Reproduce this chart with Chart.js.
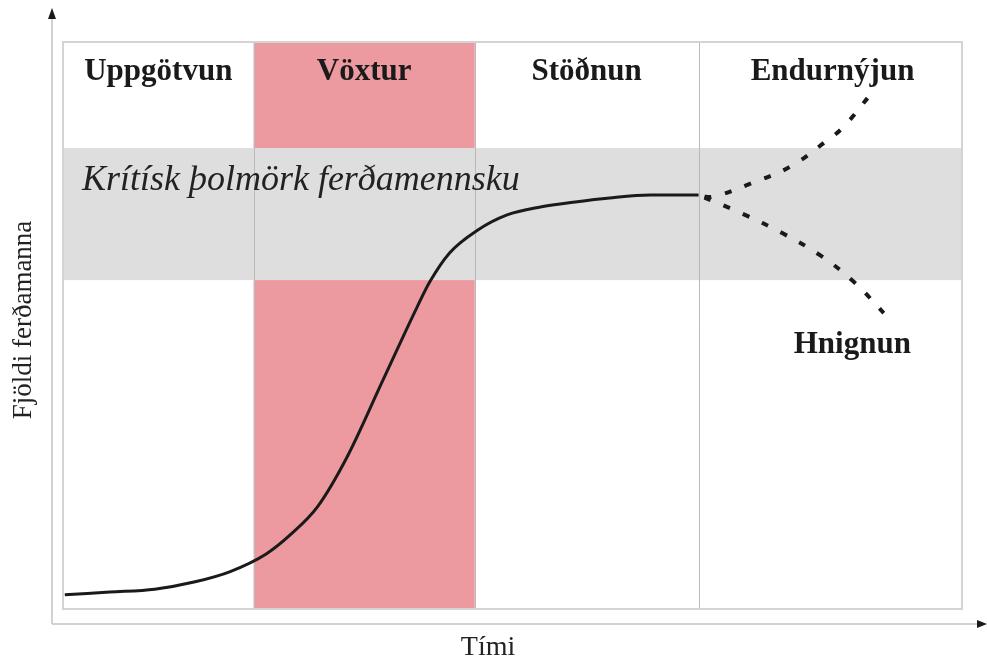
<!DOCTYPE html>
<html>
<head>
<meta charset="utf-8">
<script src="https://cdn.jsdelivr.net/npm/chart.js@4/dist/chart.umd.min.js"></script>
<style>
  html, body { margin: 0; padding: 0; background: #fff; }
  #wrap { width: 987px; height: 659px; position: relative; }
</style>
</head>
<body>
<div id="wrap"><canvas id="chart"></canvas></div>
<script>
// phases along the time axis (0..100)
const phaseNames = ['Uppgötvun', 'Vöxtur', 'Stöðnun']
const phaseEdges = [0, 21.2, 45.8, 70.7, 100]
const growthPhase = [21.2, 45.8]
// critical tourism capacity band (0..100 of visitors)
const capacityBand = [58.0, 81.3]
const capacityLabel = 'Krítísk þolmörk ferðamennsku'

// life cycle curve
const curveTime = [0.2, 5.2, 10.2, 14.7, 18.6, 22.6, 25.3, 28.3, 31.6, 35.6, 39.4, 40.8, 43.0, 46.1, 49.4, 53.1, 57.0, 60.8, 65.3, 70.7]
const curveVisitors = [2.5, 3.0, 3.5, 4.8, 6.6, 9.7, 13.1, 18.0, 26.8, 40.4, 53.3, 57.7, 62.8, 66.8, 69.5, 70.9, 71.8, 72.5, 73.0, 73.0]

// after stagnation: renewal or decline
const renewalTime = [70.7, 72.2, 76.6, 81.0, 84.8, 86.8, 89.8]
const renewalVisitors = [73.0, 72.7, 75.1, 78.1, 82.4, 85.0, 90.7]
const declineTime = [70.7, 75.6, 80.0, 84.2, 87.9, 91.3]
const declineVisitors = [73.0, 69.7, 66.3, 62.4, 57.8, 52.2]

const outcomeLabels = [
  { text: 'Endurnýjun', x: 85.6, y: 93.3 },
  { text: 'Hnignun', x: 87.8, y: 45.1 }
]

const xTitle = 'Tími'
const yTitle = 'Fjöldi ferðamanna'

const toPoints = (xs, ys) => xs.map((x, i) => ({ x: x, y: ys[i] }))

const ink = '#1a1a1a'
const serif = '"Liberation Serif", "DejaVu Serif", serif'

const backdrop = {
  id: 'backdrop',
  beforeDatasetsDraw(chart) {
    const { ctx, chartArea: a, scales: { x, y } } = chart
    ctx.save()
    ctx.fillStyle = '#ffffff'
    ctx.fillRect(a.left, a.top, a.width, a.height)

    // growth phase in red
    const gx0 = x.getPixelForValue(growthPhase[0])
    const gx1 = x.getPixelForValue(growthPhase[1])
    ctx.fillStyle = '#ec9aa0'
    ctx.fillRect(gx0, a.top, gx1 - gx0, a.height)

    // capacity band in grey
    const by0 = y.getPixelForValue(capacityBand[1])
    const by1 = y.getPixelForValue(capacityBand[0])
    ctx.fillStyle = '#dedede'
    ctx.fillRect(a.left, by0, a.width, by1 - by0)

    // phase dividers
    ctx.strokeStyle = '#b9b9b9'
    ctx.lineWidth = 1
    phaseEdges.slice(1, -1).forEach(v => {
      const px = Math.round(x.getPixelForValue(v)) + 0.5
      ctx.beginPath()
      ctx.moveTo(px, a.top)
      ctx.lineTo(px, a.bottom)
      ctx.stroke()
    })

    // frame
    ctx.strokeStyle = '#d4d4d4'
    ctx.lineWidth = 2
    ctx.strokeRect(a.left, a.top, a.width, a.height)
    ctx.restore()
  },
  afterDraw(chart) {
    const { ctx, chartArea: a, scales: { x, y } } = chart
    ctx.save()
    ctx.fillStyle = ink

    // phase names
    ctx.font = 'bold 31px ' + serif
    ctx.textAlign = 'center'
    ctx.textBaseline = 'alphabetic'
    phaseNames.forEach((name, i) => {
      const cx = x.getPixelForValue((phaseEdges[i] + phaseEdges[i + 1]) / 2)
      ctx.fillText(name, cx, y.getPixelForValue(93.3))
    })
    outcomeLabels.forEach(l => {
      ctx.fillText(l.text, x.getPixelForValue(l.x), y.getPixelForValue(l.y))
    })

    // band label
    ctx.font = 'italic 36px ' + serif
    ctx.textAlign = 'left'
    ctx.fillStyle = '#222'
    ctx.fillText(capacityLabel, x.getPixelForValue(2.1), y.getPixelForValue(73.9))

    // axes with arrows
    const ax = 52, ay = 624
    ctx.strokeStyle = '#c4c4c4'
    ctx.lineWidth = 1.5
    ctx.beginPath()
    ctx.moveTo(ax, ay)
    ctx.lineTo(ax, 16)
    ctx.moveTo(ax, ay)
    ctx.lineTo(980, ay)
    ctx.stroke()
    ctx.fillStyle = ink
    ctx.beginPath()
    ctx.moveTo(ax, 8)
    ctx.lineTo(ax - 4, 19)
    ctx.lineTo(ax + 4, 19)
    ctx.closePath()
    ctx.fill()
    ctx.beginPath()
    ctx.moveTo(987, ay)
    ctx.lineTo(977, ay - 4)
    ctx.lineTo(977, ay + 4)
    ctx.closePath()
    ctx.fill()

    // axis titles
    ctx.fillStyle = '#222'
    ctx.font = '28px ' + serif
    ctx.textAlign = 'center'
    ctx.fillText(xTitle, 488, 655)
    ctx.translate(31, 320)
    ctx.rotate(-Math.PI / 2)
    ctx.font = '27px ' + serif
    ctx.fillText(yTitle, 0, 0)
    ctx.restore()
  }
}

new Chart(document.getElementById('chart'), {
  type: 'line',
  data: {
    datasets: [
      {
        label: 'Lífsferill',
        data: toPoints(curveTime, curveVisitors),
        borderColor: ink,
        borderWidth: 3,
        pointRadius: 0,
        cubicInterpolationMode: 'monotone',
        fill: false
      },
      {
        label: 'Endurnýjun',
        data: toPoints(renewalTime, renewalVisitors),
        borderColor: ink,
        borderWidth: 4,
        borderDash: [7, 14],
        borderDashOffset: -6,
        pointRadius: 0,
        tension: 0.4,
        fill: false
      },
      {
        label: 'Hnignun',
        data: toPoints(declineTime, declineVisitors),
        borderColor: ink,
        borderWidth: 4,
        borderDash: [7, 14],
        borderDashOffset: -6,
        pointRadius: 0,
        tension: 0.4,
        fill: false
      }
    ]
  },
  options: {
    responsive: true,
    maintainAspectRatio: false,
    animation: false,
    layout: {
      padding: { left: 63, top: 42, right: 25, bottom: 50 }
    },
    scales: {
      x: { type: 'linear', min: 0, max: 100, display: false },
      y: { type: 'linear', min: 0, max: 100, display: false }
    },
    plugins: {
      legend: { display: false },
      tooltip: { enabled: false }
    }
  },
  plugins: [backdrop]
})
</script>
</body>
</html>
